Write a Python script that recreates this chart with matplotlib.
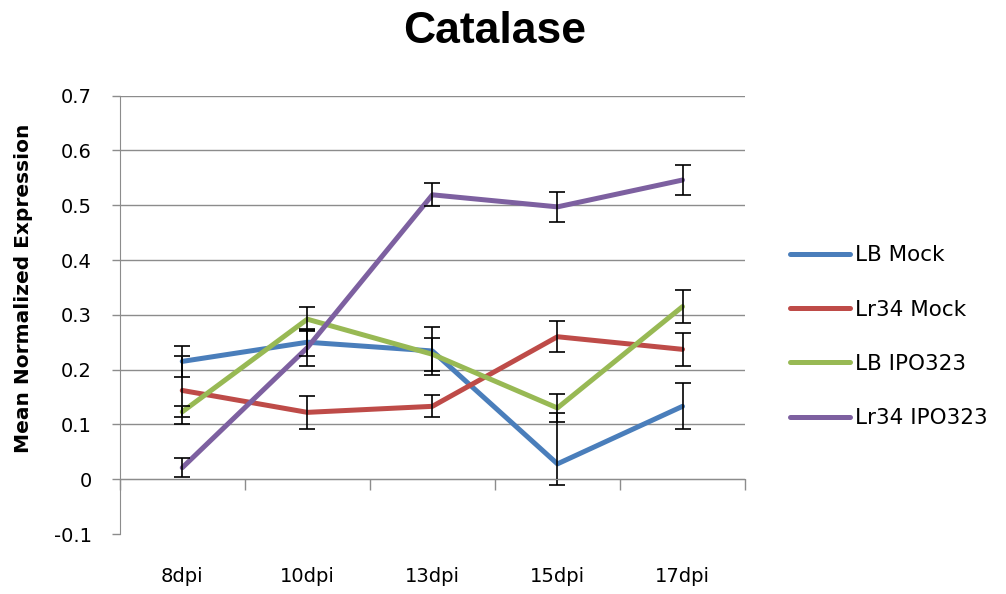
import numpy as np
import matplotlib.pyplot as plt

days = ["8dpi", "10dpi", "13dpi", "15dpi", "17dpi"]
series_names = ["LB Mock", "Lr34 Mock", "LB IPO323", "Lr34 IPO323"]

lb_mock = [0.215, 0.250, 0.234, 0.028, 0.133]
lr34_mock = [0.162, 0.122, 0.133, 0.260, 0.237]
lb_ipo = [0.123, 0.292, 0.228, 0.130, 0.315]
lr34_ipo = [0.021, 0.240, 0.519, 0.497, 0.546]

# error bars (lower, upper)
lb_mock_err = [[0.028, 0.025, 0.043, 0.038, 0.042],
               [0.028, 0.025, 0.043, 0.093, 0.042]]
lr34_mock_err = [0.062, 0.030, 0.020, 0.028, 0.030]
lb_ipo_err = [0.010, 0.022, 0.030, 0.026, 0.030]
lr34_ipo_err = [0.017, 0.033, 0.021, 0.027, 0.027]

colors = ["#4A7EBB", "#BE4B48", "#98B954", "#7D60A0"]
grid_col = "#8C8C8C"

values = [lb_mock, lr34_mock, lb_ipo, lr34_ipo]
errors = [lb_mock_err, lr34_mock_err, lb_ipo_err, lr34_ipo_err]
x = np.arange(len(days))

fig = plt.figure(figsize=(10.06, 5.94), dpi=100)
ax = fig.add_axes([0.119, 0.101, 0.6216, 0.738])

for vals, name, c in zip(values, series_names, colors):
    ax.plot(x, vals, color=c, lw=3.6, label=name, zorder=3, solid_capstyle="round")
for vals, err in zip(values, errors):
    ax.errorbar(x, vals, yerr=err, fmt="none", ecolor="black", elinewidth=1.2,
                capsize=6, capthick=1.2, zorder=4)

ax.set_xlim(-0.5, 4.5)
ax.set_ylim(-0.1, 0.7)
ax.set_yticks(np.arange(-0.1, 0.71, 0.1))
ax.set_yticklabels(["-0.1", "0", "0.1", "0.2", "0.3", "0.4", "0.5", "0.6", "0.7"])
ax.yaxis.grid(True, color=grid_col, lw=1.0)
ax.get_ygridlines()[0].set_visible(False)
ax.set_axisbelow(True)
ax.set_xticks(x)
ax.set_xticklabels(days)
ax.tick_params(axis="x", length=0, pad=24, labelsize=14)
ax.tick_params(axis="y", length=6, width=1, color=grid_col, pad=14, labelsize=14)
for s in ["top", "right", "bottom"]:
    ax.spines[s].set_visible(False)
ax.spines["left"].set_color(grid_col)

# category axis crossing at zero
ax2 = ax.twiny()
ax2.set_xlim(-0.5, 4.5)
ax2.set_xticks(np.arange(-0.5, 5, 1))
ax2.set_xticklabels([])
ax2.xaxis.set_ticks_position("bottom")
ax2.spines["bottom"].set_position(("data", 0))
ax2.spines["bottom"].set_color(grid_col)
for s in ["top", "right", "left"]:
    ax2.spines[s].set_visible(False)
ax2.tick_params(axis="x", length=8, width=1, color=grid_col, direction="out")

ax.set_ylabel("Mean Normalized Expression", fontsize=14.5, fontweight="bold")
ax.yaxis.set_label_coords(-0.139, 0.56)

fig.text(0.492, 0.947, "Catalase", fontsize=32, fontweight="bold",
         family="Liberation Sans", ha="center", va="center")

handles, labels = ax.get_legend_handles_labels()
fig.legend(handles, labels, loc="center left", bbox_to_anchor=(0.785, 0.433),
           frameon=False, fontsize=15.5, handlelength=2.8, handletextpad=0.25,
           labelspacing=1.6, borderpad=0, borderaxespad=0)

fig.savefig("out.png", dpi=100)
